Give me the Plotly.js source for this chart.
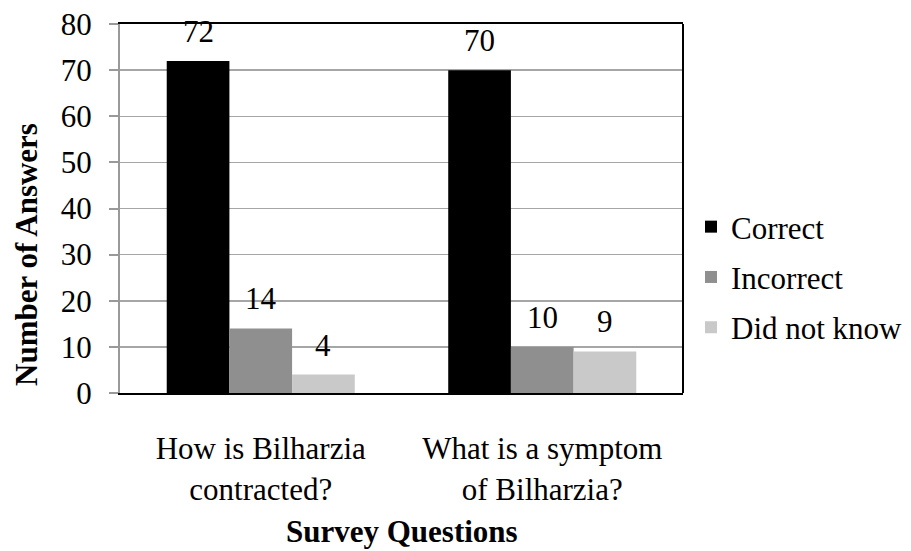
<!DOCTYPE html>
<html>
<head>
<meta charset="utf-8">
<script src="https://cdn.plot.ly/plotly-3.0.1.min.js"></script>
<style>
  html, body { margin: 0; padding: 0; background: #fff; }
  #chart { width: 911px; height: 551px; }
</style>
</head>
<body>
<div id="chart"></div>
<script>
// Survey answers about Bilharzia, grouped by question
const categories = ['How is Bilharzia<br>contracted?', 'What is a symptom<br>of Bilharzia?'];
const seriesNames = ['Correct', 'Incorrect', 'Did not know'];
const correct = [72, 70];
const incorrect = [14, 10];
const didNotKnow = [4, 9];
const yTicks = [0, 10, 20, 30, 40, 50, 60, 70, 80];

const seriesValues = [correct, incorrect, didNotKnow];
const seriesColors = ['#000000', '#8f8f8f', '#c9c9c9'];

const FONT = '"Liberation Serif", "Times New Roman", serif';
const FS = 31;
const W = 911, H = 551;
const margin = { l: 120, r: 228, t: 24, b: 158 };
const bargap = 0.332;
const plotW = W - margin.l - margin.r;
const plotH = H - margin.t - margin.b;

// pixel position in the page -> paper fraction of the plot area
const paperX = px => (px - margin.l) / plotW;
const paperY = py => (H - margin.b - py) / plotH;

const traces = seriesNames.map((name, i) => ({
  type: 'bar',
  name: name,
  x: categories,
  y: seriesValues[i],
  legendgroup: 'g' + i,
  marker: { color: seriesColors[i], line: { width: 0 } },
  hoverinfo: 'x+y+name'
}));

// value labels sit a little above each bar, offset by the bar's slot in the group
const catW = plotW / categories.length;
const barW = catW * (1 - bargap) / seriesNames.length;
const annotations = [];
seriesValues.forEach((vals, i) => {
  vals.forEach((v, j) => {
    annotations.push({
      xref: 'x', yref: 'y',
      x: categories[j], y: v,
      xshift: (i - (seriesNames.length - 1) / 2) * barW,
      yshift: 10,
      yanchor: 'bottom', xanchor: 'center',
      text: String(v),
      showarrow: false,
      font: { family: FONT, size: FS, color: '#000' }
    });
  });
});

// axis titles
annotations.push({
  xref: 'paper', yref: 'paper',
  x: 0.5, y: paperY(531),
  text: '<b>Survey Questions</b>',
  showarrow: false, xanchor: 'center', yanchor: 'middle',
  font: { family: FONT, size: FS, color: '#000' }
});
annotations.push({
  xref: 'paper', yref: 'paper',
  x: paperX(26), y: paperY(255),
  text: '<b>Number of Answers</b>',
  textangle: -90,
  showarrow: false, xanchor: 'center', yanchor: 'middle',
  font: { family: FONT, size: FS, color: '#000' }
});

const layout = {
  width: W, height: H,
  margin: margin,
  paper_bgcolor: '#ffffff',
  plot_bgcolor: '#ffffff',
  font: { family: FONT, size: FS, color: '#000' },
  barmode: 'group',
  bargap: bargap,
  bargroupgap: 0,
  showlegend: true,
  legend: {
    xref: 'container', yref: 'container',
    x: 691 / W, y: 1 - 277 / H,
    xanchor: 'left', yanchor: 'middle',
    font: { family: FONT, size: FS, color: '#000' },
    tracegroupgap: 7,
    itemwidth: 30,
    bgcolor: 'rgba(0,0,0,0)'
  },
  xaxis: {
    type: 'category',
    showline: true, linecolor: '#000', linewidth: 2, mirror: true,
    ticks: '', showgrid: false, zeroline: false,
    ticklabelstandoff: 27,
    tickfont: { family: FONT, size: FS, color: '#000' },
    fixedrange: true
  },
  yaxis: {
    range: [0, 80],
    tickvals: yTicks,
    ticktext: yTicks.map(String),
    showline: true, linecolor: '#999999', linewidth: 2,
    ticks: 'outside', ticklen: 9, tickwidth: 2, tickcolor: '#999999',
    ticklabelstandoff: 11,
    showgrid: true, gridcolor: '#a6a6a6', gridwidth: 1.5,
    zeroline: false,
    tickfont: { family: FONT, size: FS, color: '#000' },
    fixedrange: true
  },
  shapes: [{
    type: 'line', xref: 'paper', yref: 'paper',
    x0: 1, x1: 1, y0: 0, y1: 1,
    line: { color: '#000', width: 2 }
  }],
  annotations: annotations
};

Plotly.newPlot('chart', traces, layout, { displayModeBar: false, staticPlot: true });
</script>
</body>
</html>
